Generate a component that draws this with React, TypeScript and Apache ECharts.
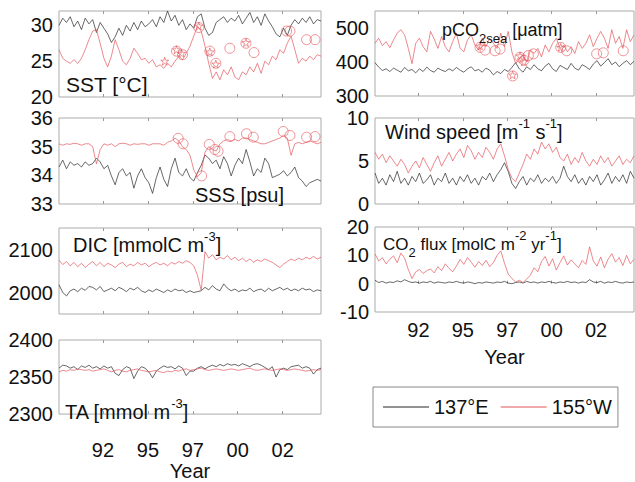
import React, { useEffect, useRef } from "react";
import * as echarts from "echarts";

const FONT = "'Liberation Sans', Arial, Helvetica, sans-serif";
const BLACK = "#262626";
const RED = "#e4565b";

// time axis: regular samples from 1990 every 0.2 yr
const T0 = 1990;
const DT = 0.2;
const X_MIN = 1990;
const X_MAX = 2004;
const X_TICKS = [1992.35, 1994.75, 1997.15, 1999.55, 2001.95];
const X_TICK_LABELS = ["92", "95", "97", "00", "02"];
const SERIES_NAMES = ["137°E", "155°W"];

// SST [°C]
const SST_137 = [30.0,31.0,30.4,31.2,29.8,30.6,29.4,31.0,30.2,30.8,29.0,30.4,29.6,28.8,27.6,28.4,29.6,28.6,30.0,29.2,30.4,29.4,30.6,29.8,30.2,30.8,29.8,31.2,30.4,32.0,30.6,31.4,30.0,30.8,29.4,30.2,29.6,31.2,31.6,29.6,28.6,29.0,30.4,30.8,31.2,30.4,31.0,30.6,31.4,30.2,31.0,31.8,30.4,31.2,30.0,31.6,30.6,29.8,28.8,28.4,29.6,28.6,30.0,30.8,30.2,31.0,30.4,31.2,30.2,30.8,30.6];
const SST_155 = [26.6,25.4,25.0,24.7,25.2,24.7,25.4,26.6,28.0,29.2,29.4,27.5,25.4,24.2,25.7,28.0,26.6,25.0,24.5,25.4,26.8,26.1,25.2,25.4,24.7,25.2,24.2,24.5,24.0,24.7,24.2,25.0,25.7,25.2,26.1,27.1,28.5,29.9,29.2,27.1,24.7,22.6,23.5,22.4,23.8,23.1,24.2,22.8,22.4,23.5,23.1,24.2,23.5,24.7,23.3,25.0,24.5,25.7,25.2,26.6,26.1,27.5,28.5,26.6,24.7,25.4,25.0,25.7,25.2,25.9,25.7];
const SST_OBS_CIRCLES = [[1996.28,26.4],[1996.6,25.9],[1997.47,29.7],[1998.06,26.4],[1998.38,24.7],[1999.13,26.8],[1999.99,27.5],[2000.42,26.2],[2002.16,29.2],[2002.34,29.2],[2003.23,28.0],[2003.68,28.0]];
const SST_OBS_STARS = [[1995.65,25.0],[1996.28,26.6],[1996.55,26.1],[1997.47,29.9],[1998.06,26.3],[1998.38,24.6],[1999.99,27.6]];

// SSS [psu]
const SSS_137 = [34.29,34.53,34.23,34.47,34.35,34.41,34.29,34.47,34.35,34.41,34.60,34.47,34.23,34.35,33.98,33.67,34.10,34.23,33.98,34.10,33.55,33.98,34.23,33.92,33.74,33.37,33.92,34.29,33.86,33.61,34.23,34.60,34.10,33.98,34.23,33.92,33.80,34.10,34.35,34.71,34.60,34.41,34.53,34.23,34.65,34.41,33.98,34.35,34.60,34.41,34.90,34.47,33.98,34.23,34.10,34.60,34.41,33.92,33.98,34.04,34.16,33.98,34.10,34.29,33.92,33.80,33.61,33.74,33.80,33.86,33.80];
const SSS_155 = [35.10,35.05,35.10,35.08,35.12,35.10,35.05,35.10,35.10,35.00,34.40,34.90,35.10,35.05,35.10,35.00,35.10,35.12,35.10,35.05,35.10,35.08,35.10,35.10,35.05,35.10,35.10,35.10,35.05,35.15,35.20,35.30,35.20,35.00,34.90,34.70,34.20,33.95,34.10,34.80,35.00,34.90,34.85,35.10,35.20,35.25,35.20,35.25,35.20,35.30,35.30,35.25,35.20,35.15,35.10,35.10,35.15,35.20,35.25,35.30,35.40,35.30,34.70,35.10,35.15,35.10,35.15,35.20,35.15,35.10,35.15];
const SSS_OBS_CIRCLES = [[1996.37,35.29],[1996.63,35.1],[1997.62,33.98],[1998.03,35.08],[1998.33,34.9],[1998.5,34.84],[1999.13,35.35],[2000.02,35.45],[2000.38,35.33],[2001.98,35.53],[2002.34,35.39],[2003.23,35.33],[2003.68,35.35]];

// DIC [mmolC m-3]
const DIC_137 = [2018,2000,1992,2004,2008,2002,2010,2005,2014,2012,2006,2014,2002,2006,2010,2004,2012,2008,2002,2010,2006,2012,2004,2000,2006,2002,2008,2004,2000,2006,2002,2008,2004,2006,2000,2004,2000,2002,2004,2012,2006,2016,2008,2004,2020,2010,2004,2008,2002,2006,2004,2010,2002,2006,2008,2002,2010,2004,2008,2012,2006,2010,2004,2008,2004,2010,2006,2008,2002,2006,2004];
const DIC_155 = [2075,2065,2072,2062,2070,2060,2068,2058,2066,2072,2062,2070,2060,2068,2064,2058,2066,2070,2060,2066,2062,2070,2064,2068,2060,2066,2070,2064,2068,2062,2070,2066,2072,2068,2074,2070,2062,2040,2005,2095,2080,2088,2076,2082,2078,2086,2076,2082,2074,2080,2072,2078,2070,2076,2072,2078,2074,2070,2064,2058,2066,2072,2078,2074,2080,2076,2082,2078,2084,2078,2082];

// TA [mmol m-3]
const TA_137 = [2362,2366,2365,2362,2364,2360,2365,2363,2366,2362,2364,2361,2365,2362,2364,2355,2352,2360,2364,2362,2348,2358,2364,2362,2357,2349,2358,2362,2365,2363,2364,2361,2365,2362,2352,2358,2358,2362,2364,2361,2364,2366,2364,2367,2365,2368,2366,2367,2365,2368,2366,2364,2367,2368,2366,2363,2360,2364,2350,2360,2362,2360,2364,2365,2366,2362,2364,2362,2354,2360,2362];
const TA_155 = [2357,2359,2358,2360,2359,2361,2360,2359,2360,2358,2359,2360,2361,2359,2357,2359,2360,2358,2357,2359,2360,2361,2359,2358,2357,2358,2359,2357,2356,2358,2357,2359,2358,2360,2361,2359,2360,2361,2362,2360,2359,2360,2361,2360,2359,2360,2361,2360,2359,2360,2361,2362,2360,2359,2360,2361,2360,2359,2360,2361,2360,2359,2360,2361,2360,2359,2358,2359,2360,2359,2360];

// pCO2sea [µatm]
const PCO2_137 = [398,385,375,380,372,382,376,370,384,374,378,368,380,372,385,375,370,382,376,372,380,374,384,376,370,380,386,374,378,370,382,376,362,372,366,378,372,384,398,380,370,386,378,392,380,374,388,396,380,372,390,384,378,396,382,376,392,386,378,394,404,388,398,410,392,400,386,396,404,392,402];
const PCO2_155 = [455,470,448,460,442,465,485,495,480,440,395,455,470,445,430,490,468,440,475,445,430,460,485,440,430,465,480,450,435,470,445,470,455,440,485,445,490,430,395,410,420,400,435,425,440,415,450,430,455,470,440,450,430,445,425,460,440,455,480,445,470,490,470,440,495,455,475,440,495,460,480];
const PCO2_OBS_CIRCLES = [[1995.68,443],[1995.95,435],[1996.49,433],[1996.76,438],[1997.44,359],[1997.84,414],[1998.05,405],[1998.29,419],[1998.56,424],[2000.04,443],[2000.36,433],[2001.98,424],[2002.34,427],[2003.42,433]];
const PCO2_OBS_STARS = [[1995.68,447],[1997.44,362],[1997.84,418],[1998.05,401],[2000.04,443]];

// Wind speed [m s-1]
const WIND_137 = [3.6,2.4,3.0,2.2,3.4,2.6,3.8,2.4,3.0,2.2,3.2,2.6,3.6,2.4,2.8,3.4,2.2,3.0,2.6,3.6,2.4,3.0,2.2,3.2,2.6,3.4,2.4,3.0,2.2,3.2,2.8,3.6,2.6,3.4,4.0,4.8,3.8,2.4,1.8,2.6,3.2,2.2,3.0,2.6,3.4,2.4,3.0,2.6,3.2,2.4,3.0,4.4,3.2,2.6,3.4,2.4,3.0,2.2,3.2,2.6,3.4,2.2,2.8,3.6,2.4,3.2,2.6,3.4,2.4,3.8,3.0];
const WIND_155 = [6.0,5.2,5.8,4.8,5.6,5.0,4.4,5.2,4.6,3.6,4.4,5.0,4.2,5.4,4.6,3.8,4.8,5.6,4.4,5.2,6.0,5.0,5.8,6.4,5.4,6.8,6.2,5.2,6.0,5.4,6.6,6.0,5.2,6.4,7.0,5.6,4.0,3.0,2.6,3.6,4.6,5.8,5.2,6.4,5.8,7.2,6.4,7.0,6.0,6.6,5.4,5.0,5.8,4.6,5.4,4.8,6.0,5.0,4.4,5.2,4.6,5.6,4.8,5.4,4.4,5.0,5.6,4.6,5.2,4.8,5.6];

// CO2 flux [molC m-2 yr-1]
const FLUX_137 = [1.2,0.4,0.8,0.2,0.6,0.4,1.0,0.6,1.4,0.8,0.4,0.6,0.2,0.6,0.4,0.8,0.2,0.6,0.4,0.2,0.6,0.4,0.8,0.4,0.2,0.6,0.4,0.0,0.4,0.2,0.6,0.4,0.2,0.6,0.4,0.8,0.2,0.0,0.4,0.6,0.2,0.8,0.4,0.6,0.2,0.6,0.4,0.8,0.4,0.2,0.6,0.4,0.8,0.4,0.6,0.2,0.6,0.4,1.4,0.6,0.4,0.8,0.2,0.6,0.4,0.8,0.4,0.2,0.6,0.4,0.6];
const FLUX_155 = [10.5,8.0,9.2,7.0,8.6,9.8,7.4,10.8,9.0,5.0,1.8,4.2,5.0,3.6,4.6,5.2,3.8,6.0,4.6,7.0,5.4,4.2,6.2,8.6,6.8,9.2,7.6,5.8,7.8,6.4,8.2,6.0,7.4,10.0,11.6,7.2,3.4,1.8,0.6,1.2,0.4,1.6,3.0,5.6,4.2,7.8,9.6,6.2,8.8,4.8,7.4,9.8,6.6,8.4,7.0,5.6,8.2,6.8,13.0,8.0,6.2,9.4,5.6,8.6,10.6,7.6,9.2,6.4,10.0,7.0,8.6];

// y-axis tick labels
const SST_TICKS = [20, 25, 30];
const SSS_TICKS = [33, 34, 35, 36];
const DIC_TICKS = [2000, 2100];
const TA_TICKS = [2300, 2350, 2400];
const PCO2_TICKS = [300, 400, 500];
const WIND_TICKS = [0, 5, 10];
const FLUX_TICKS = [-10, 0, 10, 20];

const STAR =
  "path://M50,0 L61,35 L98,35 L68,57 L79,91 L50,70 L21,91 L32,57 L2,35 L39,35 Z";

const toXY = (arr: number[]) =>
  arr.map((v, i) => [Math.round((T0 + i * DT) * 100) / 100, v]);

type Panel = {
  grid: { left: number; top: number; width: number; height: number };
  min: number;
  max: number;
  interval: number;
  ticks: number[];
  black: number[];
  red: number[];
  circles?: number[][];
  stars?: number[][];
  xLabels?: { margin: number; nameGap: number };
};

const PANELS: Panel[] = [
  { grid: { left: 59, top: 11, width: 262, height: 86 }, min: 20, max: 32, interval: 5, ticks: SST_TICKS, black: SST_137, red: SST_155, circles: SST_OBS_CIRCLES, stars: SST_OBS_STARS },
  { grid: { left: 59, top: 118, width: 262, height: 86 }, min: 33, max: 36, interval: 1, ticks: SSS_TICKS, black: SSS_137, red: SSS_155, circles: SSS_OBS_CIRCLES },
  { grid: { left: 59, top: 228, width: 262, height: 86 }, min: 1950, max: 2150, interval: 50, ticks: DIC_TICKS, black: DIC_137, red: DIC_155 },
  { grid: { left: 59, top: 340, width: 262, height: 88 }, min: 2300, max: 2400, interval: 50, ticks: TA_TICKS, black: TA_137, red: TA_155, xLabels: { margin: 26, nameGap: 38 } },
  { grid: { left: 375, top: 11, width: 259, height: 85 }, min: 300, max: 550, interval: 50, ticks: PCO2_TICKS, black: PCO2_137, red: PCO2_155, circles: PCO2_OBS_CIRCLES, stars: PCO2_OBS_STARS },
  { grid: { left: 375, top: 118, width: 259, height: 86 }, min: 0, max: 10, interval: 5, ticks: WIND_TICKS, black: WIND_137, red: WIND_155 },
  { grid: { left: 375, top: 227, width: 259, height: 85 }, min: -10, max: 20, interval: 10, ticks: FLUX_TICKS, black: FLUX_137, red: FLUX_155, xLabels: { margin: 8, nameGap: 35 } },
];

const fmtX = (v: number) => {
  const k = X_TICKS.findIndex((t) => Math.abs(t - v) < 0.01);
  return k >= 0 ? X_TICK_LABELS[k] : "";
};

const SUP = { fontSize: 13, lineHeight: 14, verticalAlign: "top", fontFamily: FONT, fill: "#111", color: "#111" };
const SUB = { fontSize: 13, lineHeight: 14, verticalAlign: "bottom", fontFamily: FONT, fill: "#111", color: "#111" };

const titleText = (x: number, y: number, text: string, fontSize: number) => ({
  type: "text",
  x,
  y,
  z: 100,
  style: {
    text,
    fontSize,
    lineHeight: 30,
    fontFamily: FONT,
    fill: "#111",
    rich: { sup: SUP, sub: SUB },
  },
});

function buildOption() {
  const grid: any[] = [];
  const xAxis: any[] = [];
  const yAxis: any[] = [];
  const series: any[] = [];

  PANELS.forEach((p, g) => {
    grid.push({ ...p.grid, show: true, borderColor: "#ababab", borderWidth: 1, backgroundColor: "#fff" });
    const showLab = !!p.xLabels;
    xAxis.push({
      type: "value",
      gridIndex: g,
      min: X_MIN,
      max: X_MAX,
      position: "bottom",
      axisLine: { show: false },
      splitLine: { show: false },
      axisTick: { show: true, inside: true, length: 3, customValues: X_TICKS, lineStyle: { color: "#999" } },
      axisLabel: {
        show: showLab,
        customValues: X_TICKS,
        formatter: fmtX,
        fontSize: 20,
        color: "#111",
        fontFamily: FONT,
        margin: showLab ? p.xLabels!.margin : 8,
      },
      name: showLab ? "Year" : "",
      nameLocation: "middle",
      nameGap: showLab ? p.xLabels!.nameGap : 0,
      nameTextStyle: { fontSize: 20, color: "#111", fontFamily: FONT },
    });
    xAxis.push({
      type: "value",
      gridIndex: g,
      min: X_MIN,
      max: X_MAX,
      position: "top",
      axisLine: { show: false },
      splitLine: { show: false },
      axisTick: { show: true, inside: true, length: 3, customValues: X_TICKS, lineStyle: { color: "#999" } },
      axisLabel: { show: false },
    });
    const ticks = p.ticks;
    yAxis.push({
      type: "value",
      gridIndex: g,
      min: p.min,
      max: p.max,
      interval: p.interval,
      axisLine: { show: false },
      axisTick: { show: false },
      splitLine: { show: false },
      axisLabel: {
        fontSize: 20,
        color: "#111",
        fontFamily: FONT,
        margin: 6,
        showMinLabel: true,
        showMaxLabel: true,
        formatter: (v: number) => {
          const hit = ticks.find((t) => Math.abs(t - v) < 1e-6);
          return hit === undefined ? "" : String(hit);
        },
      },
    });
    series.push({
      name: SERIES_NAMES[0],
      type: "line",
      xAxisIndex: 2 * g,
      yAxisIndex: g,
      data: toXY(p.black),
      showSymbol: false,
      color: BLACK,
      itemStyle: { color: BLACK },
      lineStyle: { color: BLACK, width: 0.7 },
      z: 2,
    });
    series.push({
      name: SERIES_NAMES[1],
      type: "line",
      xAxisIndex: 2 * g,
      yAxisIndex: g,
      data: toXY(p.red),
      showSymbol: false,
      color: RED,
      itemStyle: { color: RED },
      lineStyle: { color: RED, width: 0.7 },
      z: 3,
    });
    if (p.circles) {
      series.push({
        name: "obs circles " + g,
        type: "scatter",
        xAxisIndex: 2 * g,
        yAxisIndex: g,
        data: p.circles,
        symbol: "circle",
        symbolSize: 10,
        itemStyle: { color: "rgba(0,0,0,0)", borderColor: RED, borderWidth: 0.8 },
        z: 4,
      });
    }
    if (p.stars) {
      series.push({
        name: "obs stars " + g,
        type: "scatter",
        xAxisIndex: 2 * g,
        yAxisIndex: g,
        data: p.stars,
        symbol: STAR,
        symbolSize: 8,
        itemStyle: { color: "rgba(0,0,0,0)", borderColor: RED, borderWidth: 0.8 },
        z: 4,
      });
    }
  });

  return {
    animation: false,
    backgroundColor: "#fff",
    textStyle: { fontFamily: FONT },
    grid,
    xAxis,
    yAxis,
    series,
    legend: {
      data: SERIES_NAMES,
      left: 373,
      top: 387,
      orient: "horizontal",
      icon: "rect",
      itemWidth: 46,
      itemHeight: 1,
      itemGap: 12,
      padding: [10, 6, 10, 10],
      borderColor: "#888",
      borderWidth: 1,
      backgroundColor: "#fff",
      selectedMode: false,
      textStyle: { fontSize: 20, color: "#111", fontFamily: FONT },
    },
    graphic: [
      titleText(66, 69, "SST [°C]", 21),
      titleText(195, 180, "SSS [psu]", 20),
      titleText(73, 230, "DIC [mmolC m{sup|-3}]", 20),
      titleText(65, 397, "TA [mmol m{sup|-3}]", 20),
      titleText(442, 15, "pCO{sub|2sea} [μatm]", 18),
      titleText(385, 117, "Wind speed [m{sup|-1} s{sup|-1}]", 20),
      titleText(383, 229, "CO{sub|2} flux [molC m{sup|-2} yr{sup|-1}]", 17),
    ],
  };
}

export default function App() {
  const ref = useRef<HTMLDivElement>(null);
  useEffect(() => {
    if (!ref.current) return;
    const chart = echarts.init(ref.current, undefined, { renderer: "svg" });
    chart.setOption(buildOption() as any);
    return () => chart.dispose();
  }, []);
  return (
    <div
      ref={ref}
      style={{ position: "fixed", left: 0, top: 0, width: 635, height: 482, background: "#fff" }}
    />
  );
}
